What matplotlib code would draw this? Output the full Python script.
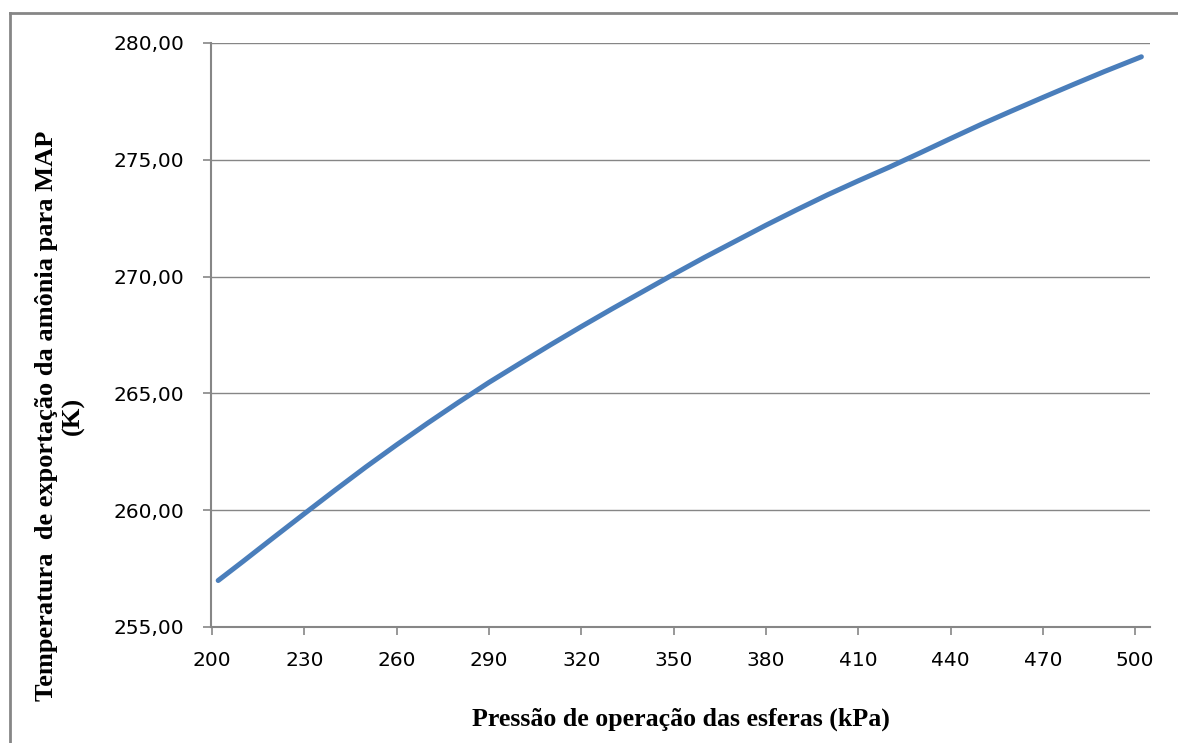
import numpy as np
import matplotlib.pyplot as plt
from matplotlib.lines import Line2D

plt.switch_backend('Agg')

# operating pressure of the spheres (kPa) and ammonia export temperature (K)
pressao = [202, 210, 220, 230, 240, 250, 260, 270, 280, 290, 300,
           310, 320, 330, 340, 350, 360, 370, 380, 390, 400,
           410, 420, 430, 440, 450, 460, 470, 480, 490, 502]
temperatura = [256.99, 257.80, 258.83, 259.85, 260.86, 261.85, 262.80,
               263.72, 264.61, 265.47, 266.28, 267.08, 267.86, 268.62,
               269.36, 270.10, 270.82, 271.51, 272.20, 272.86, 273.50,
               274.10, 274.68, 275.29, 275.91, 276.52, 277.10, 277.67,
               278.23, 278.78, 279.41]

x_ticks = np.arange(200, 501, 30)
y_ticks = np.arange(255, 281, 5)

GRAY = '#868686'
BLUE = '#4a7ebb'

fig = plt.figure(figsize=[11.78, 7.43], dpi=100)
ax = fig.add_axes([211 / 1178, 116 / 743, 939 / 1178, 584 / 743])

ax.plot(pressao, temperatura, '-', color=BLUE, lw=3.6,
        solid_capstyle='round', zorder=3)

ax.set_xlim(199.67, 504.8)
ax.set_ylim(255, 280)
ax.set_xticks(x_ticks)
ax.set_yticks(y_ticks)
ax.set_yticklabels(['{0:.2f}'.format(v).replace('.', ',') for v in y_ticks])

ax.grid(axis='y', color=GRAY, lw=1.0)
ax.set_axisbelow(True)
for side in ['top', 'right']:
    ax.spines[side].set_visible(False)
for side in ['left', 'bottom']:
    ax.spines[side].set_color(GRAY)
    ax.spines[side].set_linewidth(1.5)

ax.tick_params(axis='both', colors=GRAY, width=1.2, length=6,
               labelsize=14.5, labelcolor='black')
ax.tick_params(axis='y', pad=13)
ax.tick_params(axis='x', pad=11)

ax.set_xlabel('Pressão de operação das esferas (kPa)',
              fontfamily='Liberation Serif', fontweight='bold', fontsize=18.6)
ax.xaxis.set_label_coords(0.5, -0.138)

fig.text(60 / 1178, 1 - 416 / 743,
         'Temperatura  de exportação da amônia para MAP\n(K)',
         rotation=90, ha='center', va='center', multialignment='center',
         fontfamily='Liberation Serif', fontweight='bold', fontsize=19,
         linespacing=1.2)

# outer chart frame (left and top edges)
fig.add_artist(Line2D([10 / 1178, 10 / 1178], [0, 1 - 13 / 743],
                      color=GRAY, lw=2))
fig.add_artist(Line2D([10 / 1178, 1], [1 - 13 / 743, 1 - 13 / 743],
                      color=GRAY, lw=2))

plt.savefig('out.png', dpi=100)
plt.close()
